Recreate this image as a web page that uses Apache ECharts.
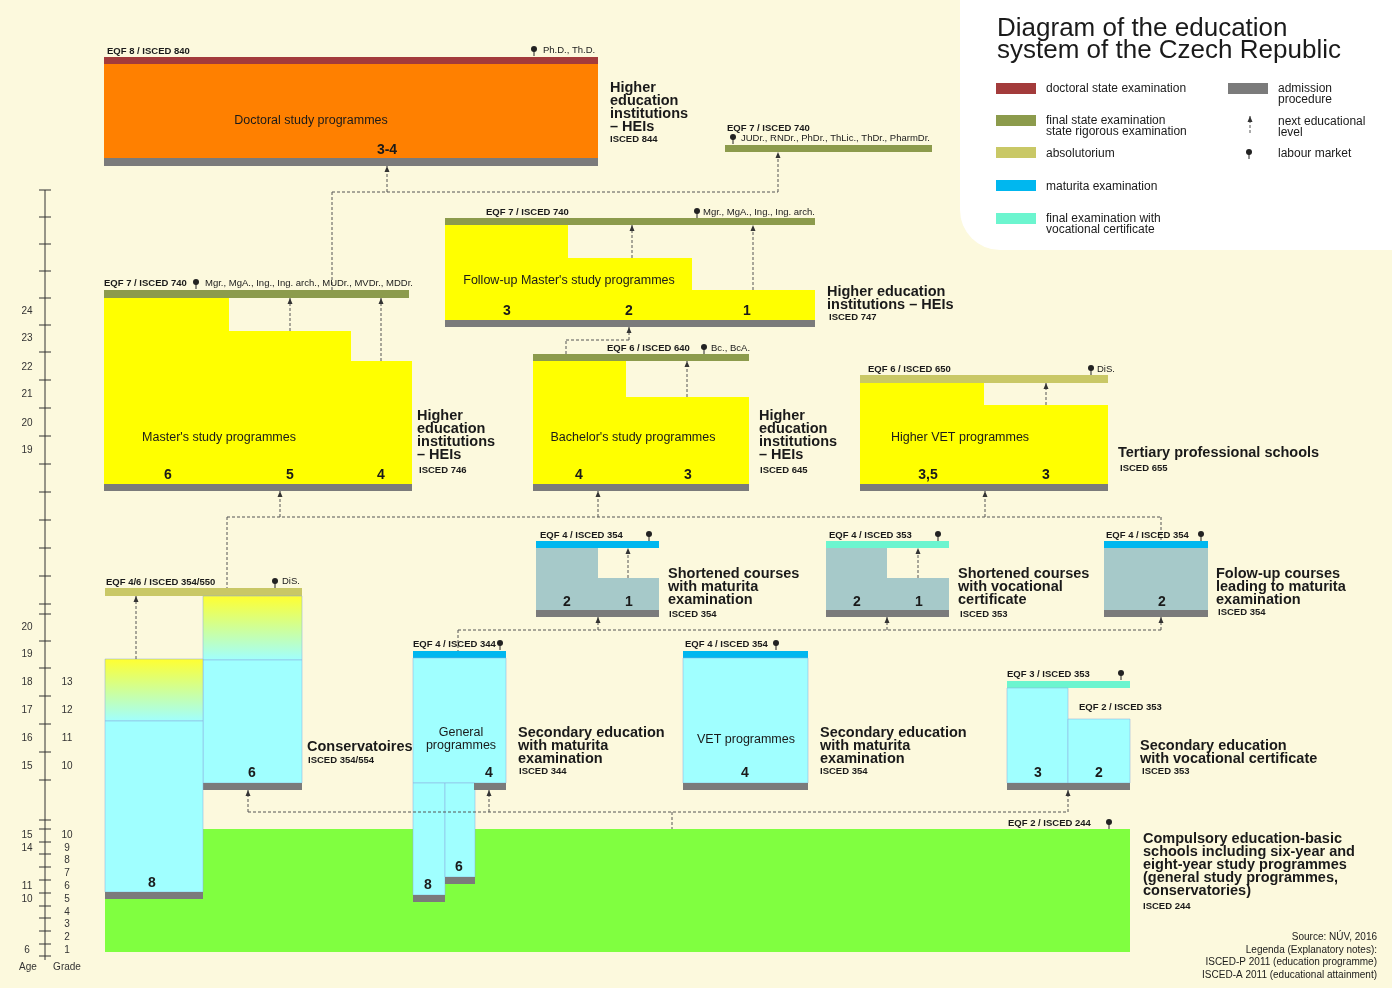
<!DOCTYPE html>
<html><head><meta charset="utf-8">
<script src="https://cdn.jsdelivr.net/npm/echarts@6/dist/echarts.min.js"></script>
<style>html,body{margin:0;padding:0;background:#fcf9dd}#c{width:1392px;height:988px}</style>
</head><body><div id="c"></div>
<script>
// boxes: [x1,y1,x2,y2,fill]
const rects = [
 [960,0,1392,250,'white'],
 [104,57,598,64,'red'],[104,64,598,158,'orange'],[104,158,598,166,'grey'],
 [725,145,932,152,'olive'],
 [445,218,815,225,'olive'],[445,225,568,320,'yellow'],[568,258,692,320,'yellow'],[692,290,815,320,'yellow'],[445,320,815,327,'grey'],
 [104,290,409,298,'olive'],[104,298,229,484,'yellow'],[229,331,351,484,'yellow'],[351,361,412,484,'yellow'],[104,484,412,491,'grey'],
 [533,354,749,361,'olive'],[533,361,626,484,'yellow'],[626,397,749,484,'yellow'],[533,484,749,491,'grey'],
 [860,375,1108,383,'abs'],[860,383,984,484,'yellow'],[984,405,1108,484,'yellow'],[860,484,1108,491,'grey'],
 [536,541,659,548,'blue'],[536,548,598,610,'slate'],[598,578,659,610,'slate'],[536,610,659,617,'grey'],
 [826,541,949,548,'aqua'],[826,548,887,610,'slate'],[887,578,949,610,'slate'],[826,610,949,617,'grey'],
 [1104,541,1208,548,'blue'],[1104,548,1208,610,'slate'],[1104,610,1208,617,'grey'],
 [105,829,1130,952,'green'],
 [105,588,302,596,'abs'],[203,596,302,660,'grad'],[203,660,302,783,'cyan'],[203,783,302,790,'grey'],
 [105,659,203,721,'grad'],[105,721,203,892,'cyan'],[105,892,203,899,'grey'],
 [413,651,506,658,'blue'],[413,658,506,783,'cyan'],[413,783,445,895,'cyan'],[445,783,475,877,'cyan'],
 [474,783,506,790,'grey'],[413,895,445,902,'grey'],[445,877,475,884,'grey'],
 [683,651,808,658,'blue'],[683,658,808,783,'cyan'],[683,783,808,790,'grey'],
 [1007,681,1130,688,'aqua'],[1007,688,1068,783,'cyan'],[1068,719,1130,783,'cyan'],[1007,783,1130,790,'grey'],
 [996,83,1036,94,'red'],[996,115,1036,126,'olive'],[996,147,1036,158,'abs'],[996,180,1036,191,'blue'],[996,213,1036,224,'aqua'],[1228,83,1268,94,'grey']
];
// connectors: [x1,y1,x2,y2,arrow(1=arrowhead at end)]
const connectors = [
 [332,290,332,192,0],[332,192,778,192,0],[387,192,387,166,1],[778,192,778,152,1],
 [290,331,290,298,1],[381,361,381,298,1],[632,258,632,225,1],[753,290,753,225,1],
 [687,397,687,361,1],[1046,405,1046,383,1],[628,578,628,548,1],[918,578,918,548,1],
 [566,354,566,340,0],[566,340,629,340,0],[629,340,629,327,1],
 [227,517,1161,517,0],[280,517,280,491,1],[598,517,598,491,1],[985,517,985,491,1],
 [227,517,227,588,0],[1161,517,1161,541,0],
 [458,630,1161,630,0],[598,630,598,617,1],[887,630,887,617,1],[1161,630,1161,617,1],[458,630,458,651,0],
 [136,659,136,596,1],
 [248,812,1068,812,0],[248,812,248,790,1],[489,812,489,790,1],[1068,812,1068,790,1],[672,812,672,829,0],
 [1250,133,1250,116,1]
];
// pins: [x,y]
const pins = [[534,50],[733,138],[697,212],[196,283],[704,348],[1091,369],[649,535],[938,535],[1201,535],[275,582],[500,644],[776,644],[1121,674],[1109,823],[1249,153]];
// texts: [x,y,text,style]
const texts = [
 [997,18,'Diagram of the education\nsystem of the Czech Republic','title'],
 [1046,83,'doctoral state examination','leg'],[1046,115,'final state examination\nstate rigorous examination','leg'],
 [1046,148,'absolutorium','leg'],[1046,181,'maturita examination','leg'],[1046,213,'final examination with\nvocational certificate','leg'],
 [1278,83,'admission\nprocedure','leg'],[1278,116,'next educational\nlevel','leg'],[1278,148,'labour market','leg'],
 [107,46,'EQF 8 / ISCED 840','lab'],[543,45,'Ph.D., Th.D.','sm'],
 [311,114,'Doctoral study programmes','prog','c'],[387,143,'3-4','num','c'],
 [610,81,'Higher\neducation\ninstitutions\n– HEIs','big'],[610,134,'ISCED 844','lab'],
 [727,123,'EQF 7 / ISCED 740','lab'],[741,133,'JUDr., RNDr., PhDr., ThLic., ThDr., PharmDr.','sm'],
 [486,207,'EQF 7 / ISCED 740','lab'],[703,207,'Mgr., MgA., Ing., Ing. arch.','sm'],
 [569,274,"Follow-up Master's study programmes",'prog','c'],[507,304,'3','num','c'],[629,304,'2','num','c'],[747,304,'1','num','c'],
 [827,285,'Higher education\ninstitutions – HEIs','big'],[829,312,'ISCED 747','lab'],
 [104,278,'EQF 7 / ISCED 740','lab'],[205,278,'Mgr., MgA., Ing., Ing. arch., MUDr., MVDr., MDDr.','sm'],
 [219,431,"Master's study programmes",'prog','c'],[168,468,'6','num','c'],[290,468,'5','num','c'],[381,468,'4','num','c'],
 [417,409,'Higher\neducation\ninstitutions\n– HEIs','big'],[419,465,'ISCED 746','lab'],
 [607,343,'EQF 6 / ISCED 640','lab'],[711,343,'Bc., BcA.','sm'],
 [633,431,"Bachelor's study programmes",'prog','c'],[579,468,'4','num','c'],[688,468,'3','num','c'],
 [759,409,'Higher\neducation\ninstitutions\n– HEIs','big'],[760,465,'ISCED 645','lab'],
 [868,364,'EQF 6 / ISCED 650','lab'],[1097,364,'DiS.','sm'],
 [960,431,'Higher VET programmes','prog','c'],[928,468,'3,5','num','c'],[1046,468,'3','num','c'],
 [1118,446,'Tertiary professional schools','big'],[1120,463,'ISCED 655','lab'],
 [540,530,'EQF 4 / ISCED 354','lab'],[567,595,'2','num','c'],[629,595,'1','num','c'],
 [668,567,'Shortened courses\nwith maturita\nexamination','big'],[669,609,'ISCED 354','lab'],
 [829,530,'EQF 4 / ISCED 353','lab'],[857,595,'2','num','c'],[919,595,'1','num','c'],
 [958,567,'Shortened courses\nwith vocational\ncertificate','big'],[960,609,'ISCED 353','lab'],
 [1106,530,'EQF 4 / ISCED 354','lab'],[1162,595,'2','num','c'],
 [1216,567,'Folow-up courses\nleading to maturita\nexamination','big'],[1218,607,'ISCED 354','lab'],
 [106,577,'EQF 4/6 / ISCED 354/550','lab'],[282,576,'DiS.','sm'],
 [252,766,'6','num','c'],[152,876,'8','num','c'],
 [307,740,'Conservatoires','big'],[308,755,'ISCED 354/554','lab'],
 [413,639,'EQF 4 / ISCED 344','lab'],[461,726,'General\nprogrammes','prog','c'],
 [489,766,'4','num','c'],[428,878,'8','num','c'],[459,860,'6','num','c'],
 [518,726,'Secondary education\nwith maturita\nexamination','big'],[519,766,'ISCED 344','lab'],
 [685,639,'EQF 4 / ISCED 354','lab'],[746,733,'VET programmes','prog','c'],[745,766,'4','num','c'],
 [820,726,'Secondary education\nwith maturita\nexamination','big'],[820,766,'ISCED 354','lab'],
 [1007,669,'EQF 3 / ISCED 353','lab'],[1079,702,'EQF 2 / ISCED 353','lab'],
 [1038,766,'3','num','c'],[1099,766,'2','num','c'],
 [1140,739,'Secondary education\nwith vocational certificate','big'],[1142,766,'ISCED 353','lab'],
 [1008,818,'EQF 2 / ISCED 244','lab'],
 [1143,832,'Compulsory education-basic\nschools including six-year and\neight-year study programmes\n(general study programmes,\nconservatories)','big'],
 [1143,901,'ISCED 244','lab'],
 [1377,932,'Source: NÚV, 2016','src','r'],[1377,945,'Legenda (Explanatory notes):','src','r'],
 [1377,957,'ISCED-P 2011 (education programme)','src','r'],[1377,970,'ISCED-A 2011 (educational attainment)','src','r']
];
// age / grade scale
const ageLabels = [[24,311],[23,338],[22,367],[21,394],[20,423],[19,450],[20,627],[19,654],[18,682],[17,710],[16,738],[15,766],[15,835],[14,848],[11,886],[10,899],[6,950]];
const gradeLabels = [[13,682],[12,710],[11,738],[10,766],[10,835],[9,848],[8,860],[7,873],[6,886],[5,899],[4,912],[3,924],[2,937],[1,950]];
const scaleTicks = [190,217,244,271,298,325,352,380,408,436,464,492,520,548,576,604,614,641,668,696,724,752,780,820,829,842,854,867,880,893,906,918,931,944,956];

const fills = {white:'#ffffff',red:'#a33b3b',olive:'#8c9b4c',abs:'#c9c866',blue:'#00b7ef',aqua:'#6cf5cf',grey:'#7b7b7b',
 orange:'#ff8000',yellow:'#ffff00',cyan:'#a0ffff',slate:'#a6c9c9',green:'#80ff40'};
const fonts = {title:'26px "Liberation Sans"',leg:'12px "Liberation Sans"',lab:'bold 9.5px "Liberation Sans"',sm:'9.5px "Liberation Sans"',
 prog:'12.5px "Liberation Sans"',num:'bold 14px "Liberation Sans"',big:'bold 14.5px "Liberation Sans"',src:'10px "Liberation Sans"'};
const lh = {title:22,leg:11,big:13,prog:13};

const chart = echarts.init(document.getElementById('c'));
const ax = (o)=>Object.assign({type:'value',show:false,min:0},o);
chart.setOption({
 backgroundColor:'#fcf9dd',animation:false,
 grid:{left:0,right:0,top:0,bottom:0},
 xAxis:ax({max:1392}),yAxis:ax({max:988,inverse:true}),
 series:[
  {type:'custom',data:rects.map((r,i)=>[i]),renderItem:(p,api)=>{
    const r=rects[p.dataIndex];const a=api.coord([r[0],r[1]]),b=api.coord([r[2],r[3]]);
    let fill=fills[r[4]];
    if(r[4]==='grad')fill=new echarts.graphic.LinearGradient(0,0,0,1,[{offset:0,color:'#ffff30'},{offset:1,color:'#a0ffff'}]);
    const shape={x:a[0],y:a[1],width:b[0]-a[0],height:b[1]-a[1]};
    if(r[4]==='white')shape.r=[0,0,0,40];
    return {type:'rect',shape,style:{fill,stroke:r[4]==='cyan'||r[4]==='grad'?'#8ad':null,lineWidth:0.5}};
  }},
  {type:'custom',data:connectors.map((r,i)=>[i]),renderItem:(p,api)=>{
    const c=connectors[p.dataIndex];const a=api.coord([c[0],c[1]]),b=api.coord([c[2],c[3]]);
    const ch=[{type:'line',shape:{x1:a[0],y1:a[1],x2:b[0],y2:b[1]},style:{stroke:'#555',lineWidth:1,lineDash:[3,2]}}];
    if(c[4]){const d=b[1]<a[1]?1:-1;ch.push({type:'polygon',shape:{points:[[b[0],b[1]],[b[0]-2.5,b[1]+6*d],[b[0]+2.5,b[1]+6*d]]},style:{fill:'#333'}});}
    return {type:'group',children:ch};
  }},
  {type:'custom',data:pins.map((r,i)=>[i]),renderItem:(p,api)=>{
    const q=api.coord(pins[p.dataIndex]);
    return {type:'group',children:[
      {type:'line',shape:{x1:q[0],y1:q[1],x2:q[0],y2:q[1]+6},style:{stroke:'#222',lineWidth:1}},
      {type:'circle',shape:{cx:q[0],cy:q[1]-1,r:3},style:{fill:'#222'}}]};
  }},
  {type:'custom',data:[[0]],renderItem:(p,api)=>{
    const ch=[];const t=api.coord([45,190]),bt=api.coord([45,960]);
    ch.push({type:'line',shape:{x1:t[0],y1:t[1],x2:bt[0],y2:bt[1]},style:{stroke:'#333',lineWidth:1}});
    scaleTicks.forEach(y=>{const q=api.coord([45,y]);ch.push({type:'line',shape:{x1:q[0]-6,y1:q[1],x2:q[0]+6,y2:q[1]},style:{stroke:'#333',lineWidth:1}});});
    ageLabels.forEach(([v,y])=>{const q=api.coord([27,y]);ch.push({type:'text',x:q[0],y:q[1],style:{text:String(v),font:'10px "Liberation Sans"',fill:'#333',align:'center',verticalAlign:'middle'}});});
    gradeLabels.forEach(([v,y])=>{const q=api.coord([67,y]);ch.push({type:'text',x:q[0],y:q[1],style:{text:String(v),font:'10px "Liberation Sans"',fill:'#333',align:'center',verticalAlign:'middle'}});});
    [[28,'Age'],[67,'Grade']].forEach(([x,s])=>{const q=api.coord([x,967]);ch.push({type:'text',x:q[0],y:q[1],style:{text:s,font:'10px "Liberation Sans"',fill:'#333',align:'center',verticalAlign:'middle'}});});
    return {type:'group',children:ch};
  }},
  {type:'custom',data:texts.map((r,i)=>[i]),renderItem:(p,api)=>{
    const t=texts[p.dataIndex];const q=api.coord([t[0],t[1]]);
    return {type:'text',x:q[0],y:q[1],style:{text:t[2],font:fonts[t[3]],fill:'#1a1a1a',lineHeight:lh[t[3]],
      align:t[4]==='c'?'center':(t[4]==='r'?'right':'left'),verticalAlign:'top'}};
  }}
 ]
});
</script></body></html>
